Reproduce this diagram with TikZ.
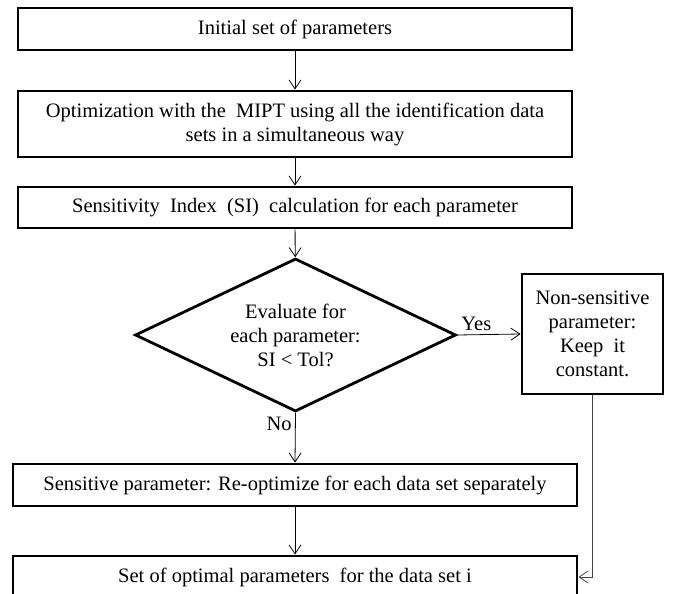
\documentclass[tikz,border=0pt]{standalone}
\usepackage{fontspec}
\setmainfont{Liberation Serif}
\usetikzlibrary{shapes.geometric,arrows.meta}
\begin{document}
\begin{tikzpicture}[x=1pt,y=-1pt]
    \tikzstyle{stepbox}=[draw=black,line width=2.8pt,rectangle,align=center,inner sep=0pt,font=\fontsize{20.5}{24}\selectfont]
    \tikzstyle{decision}=[draw=black,line width=2.8pt,shape=diamond,aspect=2.1,inner sep=0pt,align=center,font=\fontsize{20.5}{24}\selectfont]
    \tikzstyle{flow}=[line width=0.8pt,-{Straight Barb[length=9pt,width=12pt]}]

    \clip (0,0) rectangle (673,594);
    \useasboundingbox (0,0) rectangle (673,594);

    \node[stepbox,minimum width=554pt,minimum height=42pt] at (295,29) (init) {Initial set of parameters};
    \node[stepbox,minimum width=554pt,minimum height=66pt] at (295,124) (optim) {Optimization with the\ \ MIPT using all the identification data\\sets in a simultaneous way};
    \node[stepbox,minimum width=554pt,minimum height=41pt] at (295,207.5) (sens) {Sensitivity\ \ Index\ \ (SI)\ \ calculation for each parameter};
    \node[decision,minimum width=321pt,minimum height=153pt] at (295.5,335) (eval) {Evaluate for\\each parameter:\\SI < Tol?};
    \node[stepbox,minimum width=141pt,minimum height=120pt] at (592.5,334) (keep) {Non-sensitive\\parameter:\\Keep\ \ it\\constant.};
    \node[stepbox,minimum width=564pt,minimum height=42pt] at (295,485) (reopt) {Sensitive parameter: Re-optimize for each data set separately};
    \node[stepbox,minimum width=564pt,minimum height=42pt] at (295,577) (final) {Set of optimal parameters\ \ for the data set i};

    \draw[flow] (init) -- (optim);
    \draw[flow] (optim) -- (sens);
    \draw[flow] (sens) -- (eval);
    \draw[flow] (eval.east) -- (keep.west) node [pos=0.3, above, font=\fontsize{20.5}{24}\selectfont] {Yes};
    \draw[flow] (eval.south) -- (reopt.north) node [pos=0.22, left, font=\fontsize{20.5}{24}\selectfont] {No};
    \draw[flow] (reopt) -- (final);
    \draw[flow,black!75] (keep.south) |- (final.east);
\end{tikzpicture}
\end{document}
